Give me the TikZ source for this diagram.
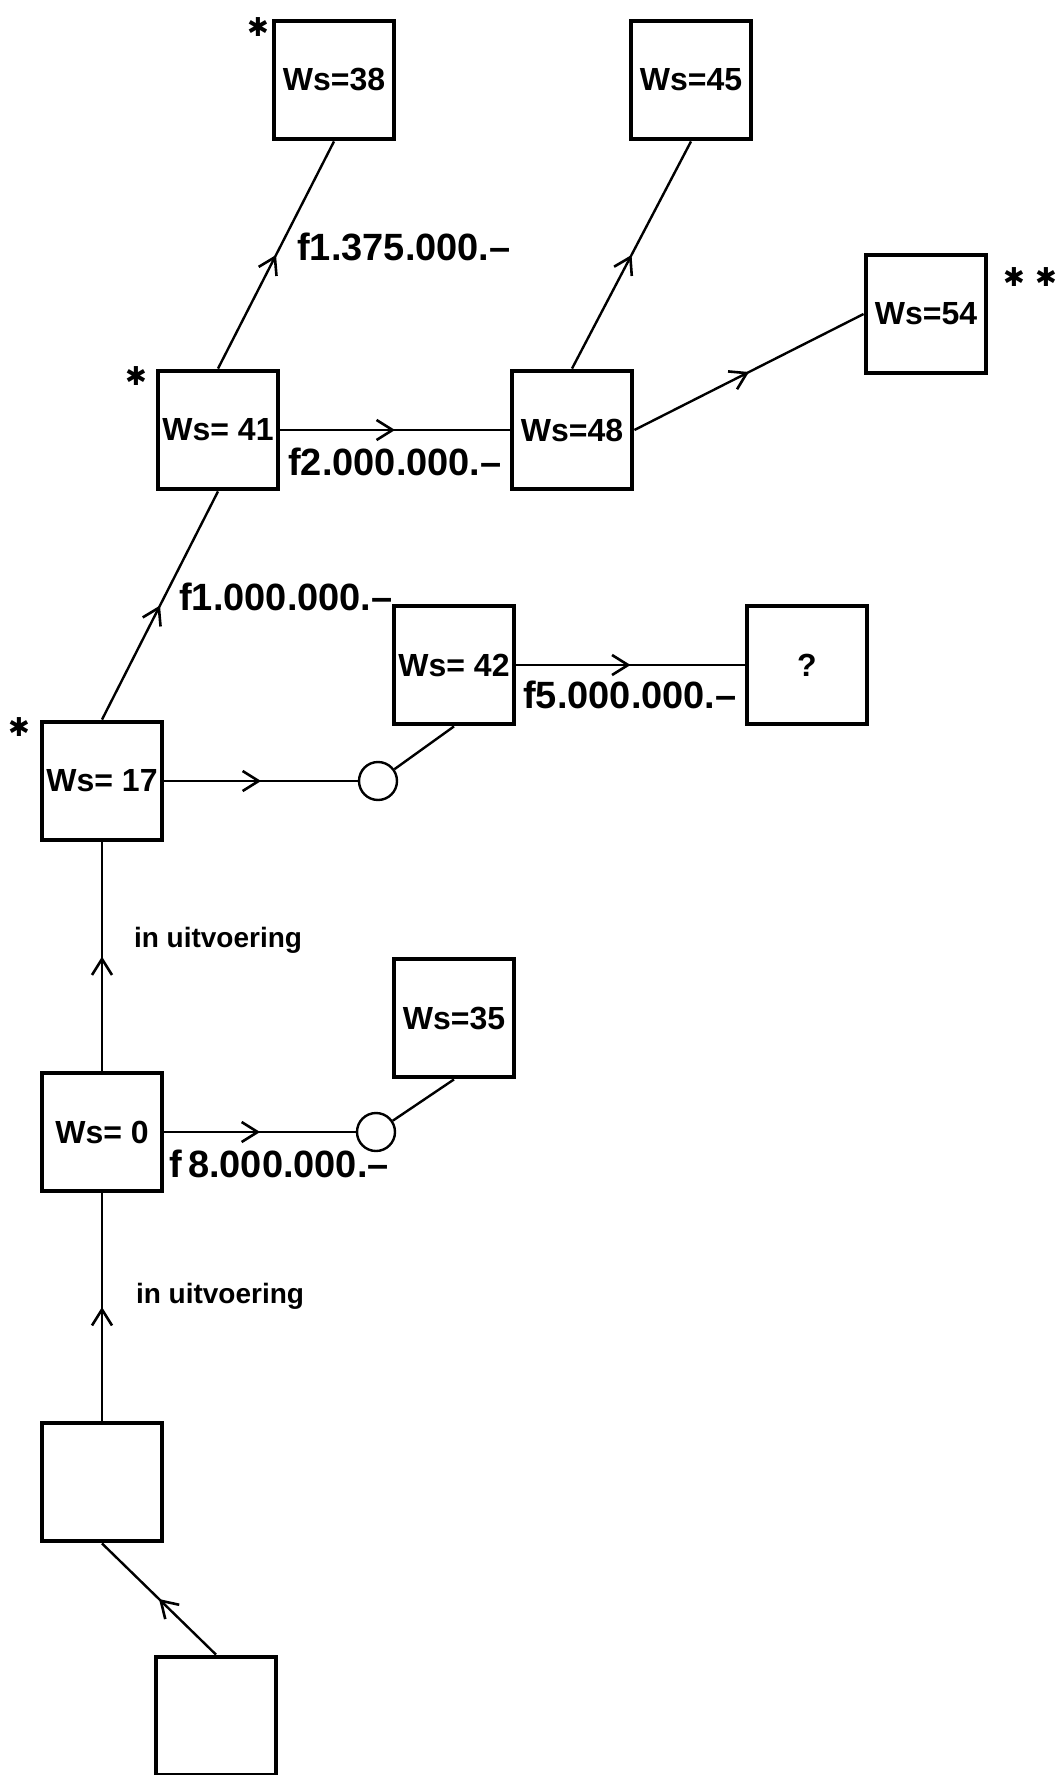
\documentclass[tikz,border=0pt]{standalone}
\usepackage{fontspec}
\setmainfont{Liberation Sans}
\newfontfamily\stersym{DejaVu Sans}
\usetikzlibrary{arrows.meta,decorations.markings}

\tikzset{
    vak/.style={draw, line width=2.4pt, minimum width=60pt, minimum height=59pt,
        inner sep=0pt, font=\fontsize{16}{18}\selectfont\bfseries},
    lijn/.style={line width=1.2pt},
    pijl/.style={lijn, postaction={decorate},
        decoration={markings, mark=at position 0.5 with
            {\arrow{Straight Barb[length=8pt,width=10pt,line width=1.3pt]}}}},
    knoop/.style={circle, draw, line width=1.2pt, minimum size=19pt, inner sep=0pt},
    bedrag/.style={font=\fontsize{19}{22}\selectfont\bfseries, inner sep=0pt},
    uitv/.style={font=\fontsize{14}{16}\selectfont\bfseries, inner sep=0pt},
    ster/.style={font=\stersym\fontsize{13}{14}\selectfont, inner sep=0pt}
}

\begin{document}
\begin{tikzpicture}[x=0.5pt, y=-0.5pt]

    % 範囲
    \useasboundingbox (0,0) rectangle (1060,1775);

    % 箱を配置
    \foreach \naam/\x/\y/\tekst in {
        b38/334/80/{Ws=38}, b45/691/80/{Ws=45}, b54/926/314/{Ws=54},
        b41/218/430/{Ws= 41}, b48/572/430/{Ws=48},
        b42/454/665/{Ws= 42}, bq/807/665/{?},
        b17/102/781/{Ws= 17}, b35/454/1018/{Ws=35}, b0/102/1132/{Ws= 0},
        e1/102/1482/{}, e2/216/1716/{}} {
        \node [vak] (\naam) at (\x,\y) {\tekst};
    }

    % 丸
    \node [knoop] (k17) at (378,781) {};
    \node [knoop] (k0) at (376,1132) {};

    % 矢印
    \draw [pijl] (b41.north) -- (b38.south);
    \draw [pijl] (b41.east) -- (b48.west);
    \draw [pijl] (b48.north) -- (b45.south);
    \draw [pijl] (b48.east) -- (b54.west);
    \draw [pijl] (b17.north) -- (b41.south);
    \draw [pijl] (b17.east) -- (k17.west);
    \draw [lijn] (k17) -- (b42.south);
    \draw [pijl] (b42.east) -- (bq.west);
    \draw [pijl] (b0.north) -- (b17.south);
    \draw [pijl] (b0.east) -- (k0.west);
    \draw [lijn] (k0) -- (b35.south);
    \draw [pijl] (e1.north) -- (b0.south);
    \draw [pijl] (e2.north) -- (e1.south);

    % 金額
    \node [bedrag] (f1375) at (404,247) {f1.375.000.–};
    \node [bedrag] (f2000) at (395,462) {f2.000.000.–};
    \node [bedrag] (f1000) at (286,597) {f1.000.000.–};
    \node [bedrag] (f5000) at (630,695) {f5.000.000.–};
    \node [bedrag] (f8000) at (279,1164) {f\,8.000.000.–};
    \node [uitv] (uitv1) at (218,940) {in uitvoering};
    \node [uitv] (uitv2) at (220,1296) {in uitvoering};

    % 星印
    \node [ster] (s38) at (258,27) {✱};
    \node [ster] (s41) at (136,376) {✱};
    \node [ster] (s17) at (19,727) {✱};
    \node [ster] (s54) at (1030,277) {✱\hspace{5pt}✱};
    %
\end{tikzpicture}
\end{document}
